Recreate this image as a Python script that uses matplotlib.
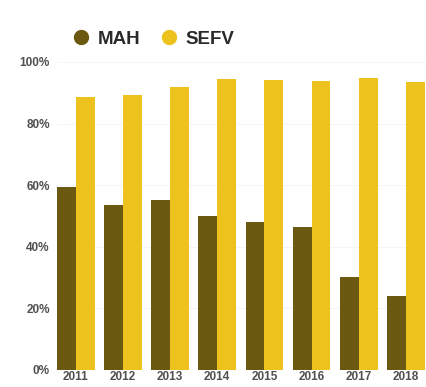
import numpy as np
import matplotlib.pyplot as plt
from matplotlib.lines import Line2D

plt.rcParams['font.family'] = ['Liberation Sans', 'DejaVu Sans']

years = ['2011', '2012', '2013', '2014', '2015', '2016', '2017', '2018']
mah = [59.4, 53.6, 55.2, 50.0, 48.0, 46.4, 30.2, 24.0]
sefv = [88.6, 89.3, 91.9, 94.5, 94.2, 93.8, 94.8, 93.5]
series_names = ['MAH', 'SEFV']
colors = ['#6b5811', '#eec21c']

fig = plt.figure(figsize=(4.27, 3.87), dpi=100)
ax = fig.add_axes([0.133, 0.044, 0.862, 0.796])

x = np.arange(len(years))
w = 0.4
ax.bar(x - w / 2, mah, w, color=colors[0])
ax.bar(x + w / 2, sefv, w, color=colors[1])

ax.set_xlim(-0.4, 7.4)
ax.set_ylim(0, 100)
ax.set_yticks([0, 20, 40, 60, 80, 100])
ax.set_yticklabels(['{}%'.format(v) for v in [0, 20, 40, 60, 80, 100]])
ax.set_xticks(x)
ax.set_xticklabels(years)
ax.tick_params(axis='both', length=0, labelsize=8.5, colors='#505050')
ax.tick_params(axis='x', pad=1)
ax.tick_params(axis='y', pad=5)
for lbl in ax.get_xticklabels() + ax.get_yticklabels():
    lbl.set_fontweight('bold')
for s in ax.spines.values():
    s.set_visible(False)
ax.yaxis.grid(True, color='#f4f4f4', linewidth=0.6)
ax.set_axisbelow(True)

handles = [Line2D([], [], marker='o', linestyle='', markersize=10, color=c)
           for c in colors]
leg = fig.legend(handles, series_names, loc='upper left', bbox_to_anchor=(0.138, 0.94),
                 ncol=2, frameon=False, handletextpad=0.05, handlelength=1.6,
                 columnspacing=0.75, borderaxespad=0,
                 prop={'size': 13.5, 'weight': 'bold'})
for t in leg.get_texts():
    t.set_color('#2a2a2a')

fig.savefig('out.png', dpi=100)
